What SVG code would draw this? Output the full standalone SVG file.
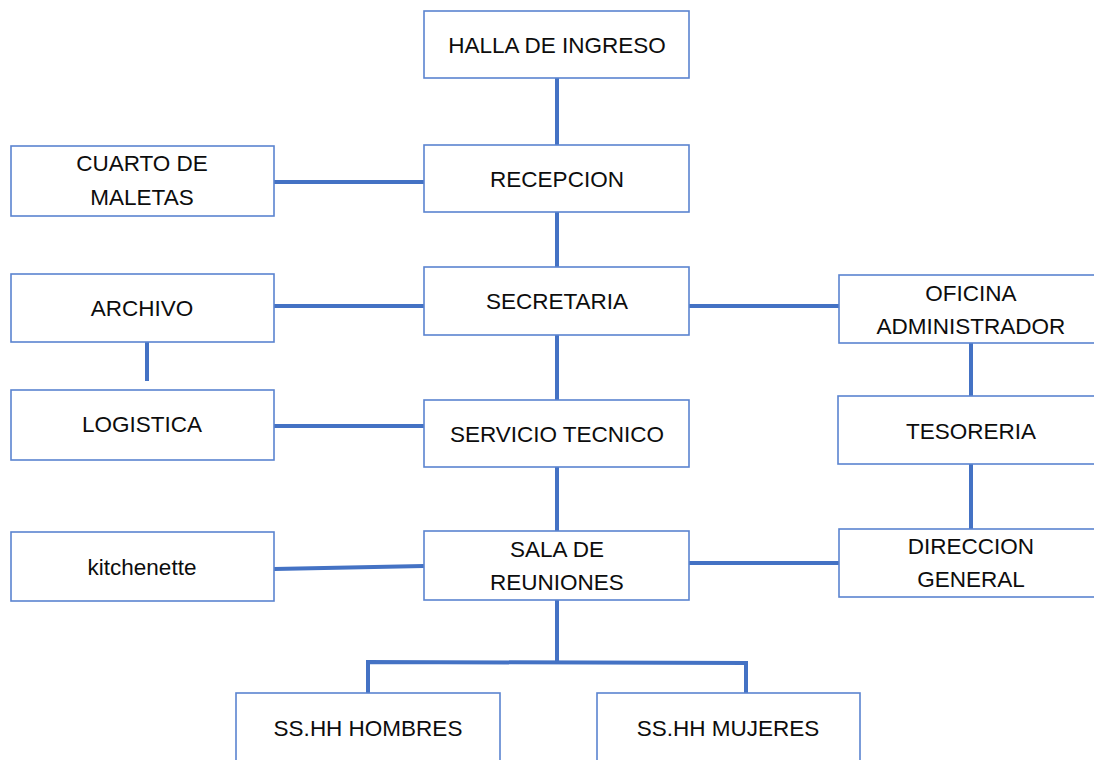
<svg xmlns="http://www.w3.org/2000/svg" width="1094" height="760" viewBox="0 0 1094 760">
<style>
.box{fill:#fff;stroke:#5b84d0;stroke-width:1.6}
.t{font-family:"Liberation Sans",Arial,sans-serif;font-size:22.5px;fill:#0d0d0d;text-anchor:middle}
.c{stroke:#4472c4;stroke-width:4;fill:none}
</style>
<rect width="1094" height="760" fill="#fff"/>
<g id="connectors">
<line class="c" x1="557" y1="78" x2="557" y2="145"/>
<line class="c" x1="274" y1="182" x2="424" y2="182"/>
<line class="c" x1="557" y1="212" x2="557" y2="267"/>
<line class="c" x1="274" y1="306" x2="424" y2="306"/>
<line class="c" x1="689" y1="306" x2="839" y2="306"/>
<line class="c" x1="147" y1="342" x2="147" y2="381"/>
<line class="c" x1="557" y1="335" x2="557" y2="400"/>
<line class="c" x1="274" y1="426" x2="424" y2="426"/>
<line class="c" x1="971" y1="343" x2="971" y2="396"/>
<line class="c" x1="971" y1="464" x2="971" y2="529"/>
<line class="c" x1="557" y1="467" x2="557" y2="531"/>
<line class="c" x1="274" y1="569" x2="424" y2="566"/>
<line class="c" x1="689" y1="563" x2="839" y2="563"/>
<line class="c" x1="557" y1="600" x2="557" y2="662"/>
<polyline class="c" points="368,693 368,662 746,663 746,693"/>
</g>
<g id="halla"><rect class="box" x="424" y="11" width="265" height="67"/><text class="t" x="557" y="53">HALLA DE INGRESO</text></g>
<g id="recepcion"><rect class="box" x="424" y="145" width="265" height="67"/><text class="t" x="557" y="187">RECEPCION</text></g>
<g id="cuarto"><rect class="box" x="11" y="146" width="263" height="70"/><text class="t" x="142" y="171">CUARTO DE</text><text class="t" x="142" y="205">MALETAS</text></g>
<g id="secretaria"><rect class="box" x="424" y="267" width="265" height="68"/><text class="t" x="557" y="309">SECRETARIA</text></g>
<g id="archivo"><rect class="box" x="11" y="274" width="263" height="68"/><text class="t" x="142" y="316">ARCHIVO</text></g>
<g id="oficina"><rect class="box" x="839" y="275" width="264" height="68"/><text class="t" x="971" y="301">OFICINA</text><text class="t" x="971" y="334">ADMINISTRADOR</text></g>
<g id="logistica"><rect class="box" x="11" y="390" width="263" height="70"/><text class="t" x="142" y="432">LOGISTICA</text></g>
<g id="servicio"><rect class="box" x="424" y="400" width="265" height="67"/><text class="t" x="557" y="442">SERVICIO TECNICO</text></g>
<g id="tesoreria"><rect class="box" x="838" y="396" width="265" height="68"/><text class="t" x="971" y="439">TESORERIA</text></g>
<g id="kitchenette"><rect class="box" x="11" y="532" width="263" height="69"/><text class="t" x="142" y="575">kitchenette</text></g>
<g id="sala"><rect class="box" x="424" y="531" width="265" height="69"/><text class="t" x="557" y="557">SALA DE</text><text class="t" x="557" y="590">REUNIONES</text></g>
<g id="direccion"><rect class="box" x="839" y="529" width="264" height="68"/><text class="t" x="971" y="554">DIRECCION</text><text class="t" x="971" y="587">GENERAL</text></g>
<g id="hombres"><rect class="box" x="236" y="693" width="264" height="80"/><text class="t" x="368" y="736">SS.HH HOMBRES</text></g>
<g id="mujeres"><rect class="box" x="597" y="693" width="263" height="80"/><text class="t" x="728" y="736">SS.HH MUJERES</text></g>
</svg>
